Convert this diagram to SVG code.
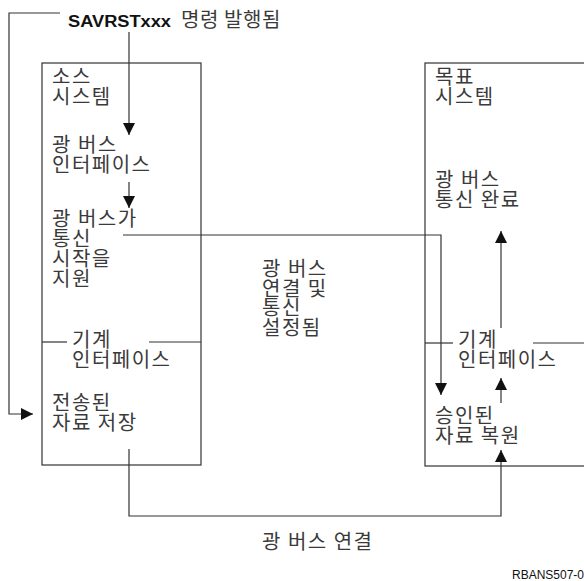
<svg xmlns="http://www.w3.org/2000/svg" width="584" height="581" viewBox="0 0 584 581">
<defs>
<style>
.t{font-family:"Noto Sans CJK KR","Noto Sans CJK SC",sans-serif;font-size:20px;letter-spacing:1.5px;fill:#3a3a3a}
.b{font-family:"Liberation Sans",Arial,sans-serif;font-weight:bold;font-size:16px;fill:#111}
.s{font-family:"Liberation Sans",Arial,sans-serif;font-size:12px;fill:#111}
.box{fill:none;stroke:#333;stroke-width:1.2}
.ln{fill:none;stroke:#333;stroke-width:1.2}
</style>
<marker id="ah" markerWidth="12" markerHeight="12" viewBox="0 0 12 12" refX="12" refY="6" orient="auto" markerUnits="userSpaceOnUse">
<path d="M0,0 L12,6 L0,12 Z" fill="#111"/>
</marker>
</defs>
<rect width="584" height="581" fill="#fff"/>

<g id="source-system">
<rect class="box" x="42" y="63" width="159" height="402"/>
<text class="t" x="52" y="84">소스<tspan x="52" dy="20">시스템</tspan></text>
<text class="t" x="52" y="152">광 버스<tspan x="52" dy="20">인터페이스</tspan></text>
<text class="t" x="52" y="226">광 버스가<tspan x="52" dy="20">통신</tspan><tspan x="52" dy="20">시작을</tspan><tspan x="52" dy="20">지원</tspan></text>
<line class="ln" x1="42" y1="342" x2="67" y2="342"/>
<line class="ln" x1="149" y1="342" x2="201" y2="342"/>
<text class="t" x="72" y="347">기계<tspan x="72" dy="20">인터페이스</tspan></text>
<text class="t" x="52" y="410">전송된<tspan x="52" dy="20">자료 저장</tspan></text>
</g>

<g id="target-system">
<rect class="box" x="425" y="63" width="170" height="403"/>
<text class="t" x="435" y="84">목표<tspan x="435" dy="20">시스템</tspan></text>
<text class="t" x="435" y="187">광 버스<tspan x="435" dy="20">통신 완료</tspan></text>
<line class="ln" x1="425" y1="343" x2="453" y2="343"/>
<line class="ln" x1="533" y1="343" x2="584" y2="343"/>
<text class="t" x="458" y="347">기계<tspan x="458" dy="20">인터페이스</tspan></text>
<text class="t" x="435" y="423">승인된<tspan x="435" dy="20">자료 복원</tspan></text>
</g>

<g id="labels">
<text class="b" x="68" y="27" textLength="103" lengthAdjust="spacingAndGlyphs">SAVRSTxxx</text>
<text class="t" x="181" y="27" textLength="101" lengthAdjust="spacing">명령 발행됨</text>
<text class="t" x="262" y="276">광 버스<tspan x="262" dy="19.5">연결 및</tspan><tspan x="262" dy="19.5">통신</tspan><tspan x="262" dy="19.5">설정됨</tspan></text>
<text class="t" x="262" y="549">광 버스 연결</text>
<text class="s" x="512" y="579">RBANS507-0</text>
</g>

<g id="connectors">
<polyline class="ln" points="60,13 9,13 9,414 33,414" marker-end="url(#ah)"/>
<line class="ln" x1="129" y1="32" x2="129" y2="135" marker-end="url(#ah)"/>
<line class="ln" x1="129" y1="182" x2="129" y2="208" marker-end="url(#ah)"/>
<polyline class="ln" points="123,235 441,235 441,395" marker-end="url(#ah)"/>
<line class="ln" x1="501" y1="328" x2="501" y2="231" marker-end="url(#ah)"/>
<line class="ln" x1="501" y1="403" x2="501" y2="378" marker-end="url(#ah)"/>
<polyline class="ln" points="129,449 129,516 501,516 501,450" marker-end="url(#ah)"/>
</g>
</svg>
